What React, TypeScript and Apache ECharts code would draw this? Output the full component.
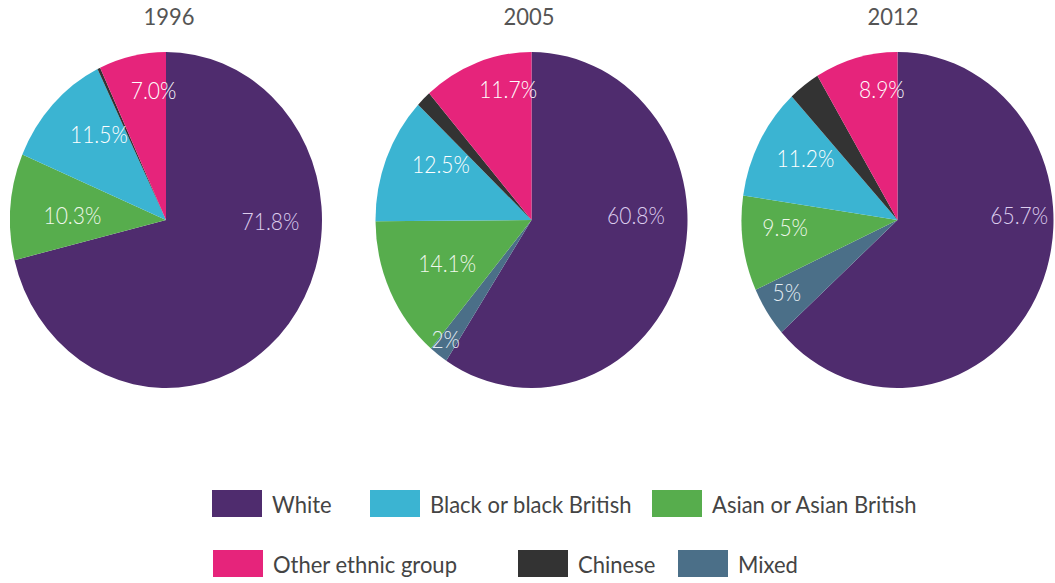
import React, { useEffect, useRef } from "react";
import * as echarts from "echarts";

// ---- data ----
const years = ["1996", "2005", "2012"];
const categories = [
  "White",
  "Mixed",
  "Asian or Asian British",
  "Black or black British",
  "Chinese",
  "Other ethnic group",
];
const white = [71.8, 60.8, 65.7];
const mixed = [0, 2, 5];
const asian = [10.3, 14.1, 9.5];
const black = [11.5, 12.5, 11.2];
const chinese = [0.3, 1.6, 3.4];
const other = [7.0, 11.7, 8.9];

// ---- styles / layout ----
const colors: Record<string, string> = {
  White: "#4f2c6e",
  Mixed: "#4b6f88",
  "Asian or Asian British": "#57ad4d",
  "Black or black British": "#3bb4d2",
  Chinese: "#333333",
  "Other ethnic group": "#e6247b",
};
const labelColors: Record<string, string> = {
  White: "#dccdee",
  Mixed: "#e4edf3",
  "Asian or Asian British": "#f0f8ec",
  "Black or black British": "#ffffff",
  Chinese: "#ffffff",
  "Other ethnic group": "#ffffff",
};
const SY = 1.0769; // vertical stretch of the original picture
const R = 156;
const CY = 204.3;
const centersX = [166, 531.5, 897.5];
const titleX = [169, 529, 893];
// label anchors relative to pie centre, as fractions of the radius
const labelSpots: number[][][] = [
  [[0.67, 0.01], [0, 0], [-0.6, -0.03], [-0.43, -0.51], [0, 0], [-0.08, -0.77]],
  [[0.67, -0.03], [-0.55, 0.71], [-0.54, 0.26], [-0.58, -0.33], [0, 0], [-0.15, -0.78]],
  [[0.78, -0.03], [-0.71, 0.43], [-0.72, 0.04], [-0.59, -0.37], [0, 0], [-0.1, -0.78]],
];
const FONT = "Lato, 'Open Sans', sans-serif";

function seriesFor(i: number) {
  const vals = [white[i], mixed[i], asian[i], black[i], chinese[i], other[i]];
  return {
    type: "pie",
    name: years[i],
    center: [centersX[i], CY],
    radius: [0, R],
    startAngle: 90,
    clockwise: true,
    silent: true,
    data: categories.map((name, k) => ({
      name,
      value: vals[k],
      itemStyle: { color: colors[name], borderWidth: 0 },
      label: {
        show: name !== "Chinese" && vals[k] > 0,
        color: labelColors[name],
      },
    })),
    label: {
      position: "inside",
      fontFamily: FONT,
      fontSize: 21,
      fontWeight: 300,
      formatter: (p: any) =>
        p.name === "Mixed" ? `${p.value}%` : `${Number(p.value).toFixed(1)}%`,
    },
    labelLine: { show: false },
    labelLayout: (p: any) => {
      const s = labelSpots[i][p.dataIndex];
      return {
        x: centersX[i] + s[0] * R,
        y: CY + s[1] * R,
        align: "center",
        verticalAlign: "middle",
      };
    },
  };
}

const legendSpots: { name: string; left: number; top: number }[] = [
  { name: "White", left: 212, top: 455 },
  { name: "Black or black British", left: 370, top: 455 },
  { name: "Asian or Asian British", left: 652, top: 455 },
  { name: "Other ethnic group", left: 213, top: 510.7 },
  { name: "Chinese", left: 518, top: 510.7 },
  { name: "Mixed", left: 678, top: 510.7 },
];

const option: any = {
  animation: false,
  title: years.map((y, i) => ({
    text: y,
    left: titleX[i],
    top: 4,
    padding: 0,
    textAlign: "center",
    textStyle: { fontFamily: FONT, fontSize: 22, fontWeight: 400, color: "#555555" },
  })),
  legend: legendSpots.map((l) => ({
    data: [l.name],
    left: l.left,
    top: l.top,
    padding: 0,
    icon: "rect",
    itemWidth: 50,
    itemHeight: 25,
    selectedMode: false,
    textStyle: {
      fontFamily: FONT,
      fontSize: 22,
      color: "#444444",
      padding: [5, 0, 0, 5],
    },
  })),
  series: years.map((_, i) => seriesFor(i)),
};

export default function App() {
  const ref = useRef<HTMLDivElement>(null);
  useEffect(() => {
    const chart = echarts.init(ref.current as HTMLDivElement, null, { renderer: "svg" });
    chart.setOption(option);
    return () => chart.dispose();
  }, []);
  return (
    <div
      style={{
        position: "fixed",
        left: 0,
        top: 0,
        width: 1055,
        height: 583,
        overflow: "hidden",
        background: "#ffffff",
      }}
    >
      <div
        ref={ref}
        style={{
          width: 1055,
          height: 542,
          transform: `scaleY(${SY})`,
          transformOrigin: "0 0",
        }}
      />
    </div>
  );
}
